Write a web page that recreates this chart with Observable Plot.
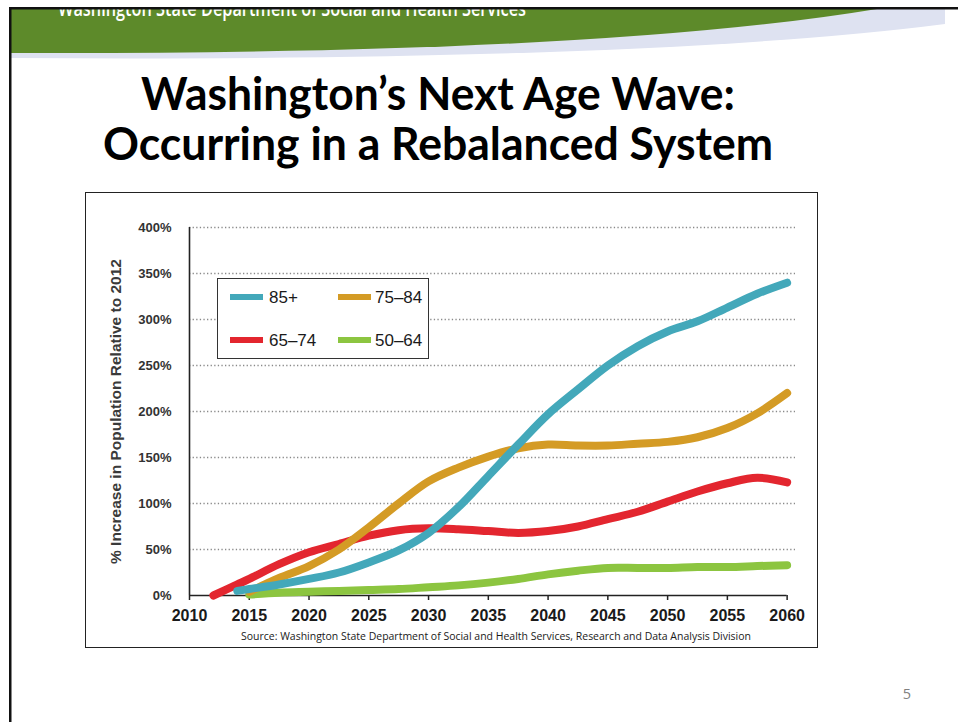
<!DOCTYPE html>
<html><head><meta charset="utf-8">
<script src="https://cdn.jsdelivr.net/npm/d3@7"></script>
<script src="https://cdn.jsdelivr.net/npm/@observablehq/plot@0.6"></script>
<style>
body{margin:0;background:#fff;}
#page{position:relative;width:958px;height:722px;overflow:hidden;background:#fff;font-family:"Liberation Sans",Arial,sans-serif;}
#deco,#over{position:absolute;left:0;top:0;}
#over{pointer-events:none;}
#chartbox{position:absolute;left:85px;top:192px;width:733px;height:456px;}
#frame{position:absolute;left:85px;top:192px;width:733px;height:456px;box-sizing:border-box;border:1.2px solid #222;pointer-events:none;}
#legend{position:absolute;left:217px;top:278px;width:212px;height:81px;box-sizing:border-box;border:1.8px solid #333;background:#fff;}
.sw{position:absolute;width:33px;height:6px;}
.lt{position:absolute;font-size:17px;color:#1a1a1a;line-height:17px;font-family:"Liberation Sans",Arial,sans-serif;}
</style>
</head><body>
<div id="page">
<svg id="deco" width="958" height="722"></svg>
<div id="chartbox"></div>
<div id="frame"></div>
<div id="legend"></div>
<svg id="over" width="958" height="722"></svg>
</div>
<script>
// ---- data ----
const years = [2012, 2014, 2015, 2017.5, 2020, 2022.5, 2025, 2027.5, 2030, 2032.5, 2035, 2037.5, 2040, 2042.5, 2045, 2047.5, 2050, 2052.5, 2055, 2057.5, 2060];
const age85plus = [null, 5, 7, 12, 18, 25, 36, 49, 68, 96, 130, 164, 197, 224, 250, 271, 287, 298, 313, 328, 340];
const age75to84 = [null, null, 4, 19, 32, 50, 74, 100, 124, 139, 151, 160, 164, 163, 163, 165, 167, 172, 182, 198, 220];
const age65to74 = [0, 12, 18, 34, 47, 56, 65, 71, 73, 72, 70, 68, 70, 75, 83, 91, 102, 113, 122, 128, 123];
const age50to64 = [null, null, 1, 3, 4, 5, 6, 7, 9, 11, 14, 18, 23, 27, 30, 30, 30, 31, 31, 32, 33];
const seriesNames = ["85+", "75–84", "65–74", "50–64"];
const seriesColors = ["#43A8BA", "#D49B25", "#E3262F", "#8CC540"];
const xTicks = [2010, 2015, 2020, 2025, 2030, 2035, 2040, 2045, 2050, 2055, 2060];
const yTicks = [0, 50, 100, 150, 200, 250, 300, 350, 400];
const titleLines = ["Washington’s Next Age Wave:", "Occurring in a Rebalanced System"];
const yLabel = "% Increase in Population Relative to 2012";
const sourceText = "Source: Washington State Department of Social and Health Services, Research and Data Analysis Division";
const headerText = "Washington State Department of Social and Health Services";
const pageNumber = "5";

const seriesValues = [age85plus, age75to84, age65to74, age50to64];
const rows = seriesNames.flatMap((s, i) => years.map((yr, j) => ({series: s, year: yr, value: seriesValues[i][j]})));
const drawOrder = ["50–64", "65–74", "75–84", "85+"];

// ---- chart ----
const chart = Plot.plot({
  width: 733, height: 456,
  marginLeft: 104, marginRight: 23, marginTop: 35, marginBottom: 53,
  style: {background: "transparent", fontFamily: "Liberation Sans, Arial, sans-serif", overflow: "visible"},
  x: {domain: [2010, 2060.7]},
  y: {domain: [0, 400]},
  color: {domain: seriesNames, range: seriesColors},
  marks: [
    Plot.ruleY(yTicks.filter(d => d > 0), {stroke: "#8a8a8a", strokeWidth: 1.4, strokeDasharray: "1.3,2.3"}),
    Plot.axisY({ticks: yTicks, tickFormat: d => d + "%", tickSize: 0, tickPadding: 18, fontSize: 13, fontWeight: "bold", fill: "#333",
      label: yLabel, labelAnchor: "center", labelArrow: "none", labelOffset: 80}),
    Plot.axisX({ticks: xTicks, tickFormat: d => String(d), tickSize: 5, tickPadding: 9, fontSize: 16, fontWeight: "bold", fill: "#1a1a1a", stroke: "#222", strokeWidth: 1.5, label: null}),
    Plot.ruleY([0], {x1: xTicks[0], x2: xTicks[xTicks.length - 1], stroke: "#222", strokeWidth: 1.6}),
    Plot.ruleX([xTicks[0]], {y1: yTicks[0], y2: yTicks[yTicks.length - 1], stroke: "#222", strokeWidth: 1.6}),
    ...drawOrder.map(s => Plot.line(rows.filter(r => r.series === s), {
      x: "year", y: "value", stroke: "series", strokeWidth: 8, strokeLinecap: "round", strokeLinejoin: "round", curve: "catmull-rom"
    }))
  ]
});
document.getElementById("chartbox").appendChild(chart);
chart.querySelectorAll("g[aria-label='y-axis label'] text").forEach(t => { t.style.fontSize = "15.5px"; t.setAttribute("fill", "#3a3a3a"); });

// ---- legend ----
const legend = document.getElementById("legend");
const legendPos = [[12, 15, 51, 10], [120, 15, 157, 10], [12, 58, 51, 53], [120, 58, 157, 53]];
seriesNames.forEach((s, i) => {
  const [sx, sy, tx, ty] = legendPos[i];
  const sw = document.createElement("div");
  sw.className = "sw"; sw.style.left = sx + "px"; sw.style.top = sy + "px"; sw.style.background = seriesColors[i];
  const lt = document.createElement("div");
  lt.className = "lt"; lt.style.left = tx + "px"; lt.style.top = ty + "px"; lt.textContent = s;
  legend.appendChild(sw); legend.appendChild(lt);
});

// ---- decorations ----
const deco = d3.select("#deco");
const defs = deco.append("defs");
defs.append("clipPath").attr("id", "bannerclip").append("rect").attr("x", 11).attr("y", 9).attr("width", 947).attr("height", 60);
const banner = deco.append("g").attr("clip-path", "url(#bannerclip)");
banner.append("path").attr("d", "M11,9 L945,9 L945,24 Q650,62 11,58 Z").attr("fill", "#DEE2F1");
banner.append("path").attr("d", "M11,9 L877,9 Q600,55 11,53 Z").attr("fill", "#5D8A2A");
banner.append("text").attr("x", 58).attr("y", 16).attr("font-family", "Open Sans, sans-serif").attr("font-weight", 600)
  .attr("font-size", 21).attr("fill", "#fff").attr("textLength", 468).attr("lengthAdjust", "spacingAndGlyphs").text(headerText);
deco.append("rect").attr("x", 9).attr("y", 7).attr("width", 949).attr("height", 2.5).attr("fill", "#111");
deco.append("rect").attr("x", 9).attr("y", 7).attr("width", 2.5).attr("height", 715).attr("fill", "#111");
const titleY = [110, 160], titleW = [594, 670];
titleLines.forEach((t, i) => {
  deco.append("text").attr("x", 438).attr("y", titleY[i]).attr("text-anchor", "middle")
    .attr("font-family", "Lato, sans-serif").attr("font-weight", 700).attr("font-size", 45).attr("fill", "#000")
    .attr("textLength", titleW[i]).attr("lengthAdjust", "spacingAndGlyphs").text(t);
});
const over = d3.select("#over");
over.append("text").attr("x", 241).attr("y", 640).attr("font-family", "Open Sans, sans-serif").attr("font-size", 10.5)
  .attr("fill", "#1a1a1a").attr("textLength", 510).attr("lengthAdjust", "spacingAndGlyphs").text(sourceText);
over.append("text").attr("x", 907).attr("y", 699).attr("text-anchor", "middle").attr("font-family", "Open Sans, sans-serif")
  .attr("font-size", 14.5).attr("fill", "#808080").text(pageNumber);
</script>
</body></html>
